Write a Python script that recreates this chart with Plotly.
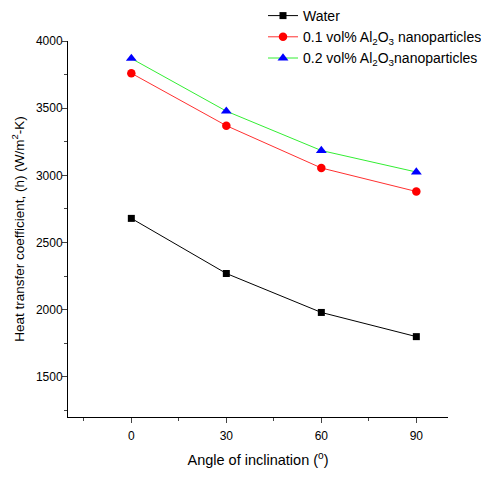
import plotly.graph_objects as go

angles = [0, 30, 60, 90]
water = [2680, 2270, 1980, 1800]
nano01 = [3760, 3370, 3055, 2880]
nano02 = [3870, 3478, 3185, 3025]

x_ticks = [0, 30, 60, 90]
y_ticks = [1500, 2000, 2500, 3000, 3500, 4000]

font = "Liberation Sans, Arial, sans-serif"

fig = go.Figure()
fig.add_trace(go.Scatter(x=angles, y=water, mode="lines+markers", name="Water",
                         line=dict(color="black", width=1),
                         marker=dict(symbol="square", size=7, color="black")))
fig.add_trace(go.Scatter(x=angles, y=nano01, mode="lines+markers",
                         name="0.1 vol% Al<sub>2</sub>O<sub>3</sub> nanoparticles",
                         line=dict(color="#ff3030", width=1),
                         marker=dict(symbol="circle", size=8.5, color="#ff0000")))
fig.add_trace(go.Scatter(x=angles, y=nano02, mode="lines+markers",
                         name="0.2 vol% Al<sub>2</sub>O<sub>3</sub>nanoparticles",
                         line=dict(color="#33ee33", width=1),
                         marker=dict(symbol="triangle-up", size=9.5, color="#0000ff")))

fig.update_layout(
    width=481, height=480,
    margin=dict(l=68, r=33, t=41, b=63, autoexpand=False),
    paper_bgcolor="white", plot_bgcolor="white",
    font=dict(family=font, size=13, color="black"),
    showlegend=True,
    legend=dict(xref="container", yref="container", x=263 / 481, y=1.0,
                xanchor="left", yanchor="top",
                bgcolor="rgba(0,0,0,0)", font=dict(size=14),
                itemwidth=30, tracegroupgap=0),
    xaxis=dict(range=[-20, 100], tickvals=x_ticks, ticks="outside", ticklen=5,
               showgrid=False, zeroline=False, showline=True, linecolor="black",
               linewidth=1, tickfont=dict(size=12), automargin=False,
               ticklabelstandoff=3,
               minor=dict(tickvals=[-15, 15, 45, 75], ticks="outside", ticklen=3),
               title=dict(text="Angle of inclination (<sup>o</sup>)", font=dict(size=14.5), standoff=12)),
    yaxis=dict(range=[1202, 4000], tickvals=y_ticks, ticks="outside", ticklen=5,
               showgrid=False, zeroline=False, showline=True, linecolor="black",
               linewidth=1, tickfont=dict(size=12), automargin=False,
               ticklabelstandoff=-3,
               minor=dict(tickvals=[1250, 1750, 2250, 2750, 3250, 3750], ticks="outside", ticklen=3),
               title=dict(text="Heat transfer coefficient, (h) (W/m<sup>2</sup>-K)", font=dict(size=13.5), standoff=8)),
)

fig.write_html("out.html", config={"displayModeBar": False},
               post_script="document.body.style.margin='0';")
